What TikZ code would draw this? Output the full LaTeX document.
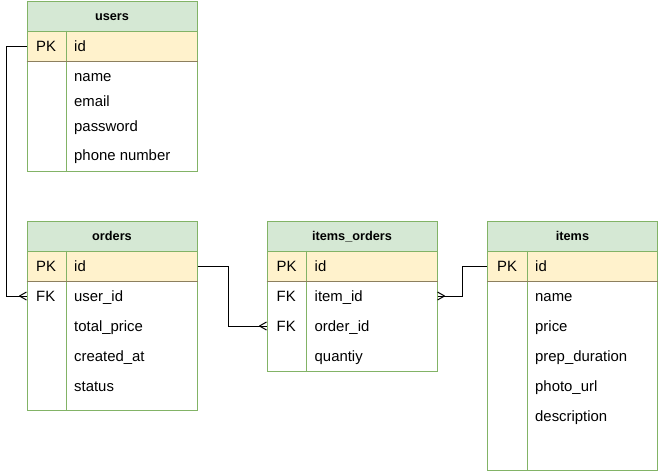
\documentclass[tikz,border=0pt]{standalone}
\usepackage{fontspec}
\setmainfont{Liberation Sans}
\usepackage{tikz}
\usetikzlibrary{arrows.meta}

\definecolor{headfill}{HTML}{D5E8D4}
\definecolor{keyfill}{HTML}{FFF2CC}
\definecolor{tblline}{HTML}{82B366}
\definecolor{keyedge}{HTML}{8C7F5E}

% crow's foot (many) end
\pgfdeclarearrow{
  name = crowfoot,
  parameters = {\the\pgfarrowlength,\the\pgfarrowwidth},
  setup code = {
    \pgfarrowssettipend{0pt}
    \pgfarrowssetlineend{0pt}
    \pgfarrowssetbackend{-\pgfarrowlength}
    \pgfarrowsupperhullpoint{0pt}{.5\pgfarrowwidth}
    \pgfarrowsupperhullpoint{-\pgfarrowlength}{0pt}
    \pgfarrowssavethe\pgfarrowlength
    \pgfarrowssavethe\pgfarrowwidth
  },
  drawing code = {
    \pgfsetroundjoin
    \pgfpathmoveto{\pgfpoint{0pt}{.5\pgfarrowwidth}}
    \pgfpathlineto{\pgfpoint{-\pgfarrowlength}{0pt}}
    \pgfpathlineto{\pgfpoint{0pt}{-.5\pgfarrowwidth}}
    \pgfusepathqstroke
  },
  defaults = {length = 7pt, width = 8pt}
}

\tikzset{
  tablebox/.style={rectangle, draw=tblline, line width=1pt, minimum width=170pt, inner sep=0pt},
  headrow/.style={tablebox, fill=headfill, minimum height=30pt,
    font=\bfseries\fontsize{12.7}{15}\selectfont, text height=9pt, text depth=1pt},
  keyrow/.style={tablebox, fill=keyfill, minimum height=30pt},
  bodybox/.style={tablebox, fill=white},
  field/.style={anchor=west, inner sep=0pt, font=\fontsize{14.9}{18}\selectfont,
    text height=13pt, text depth=3pt},
  divider/.style={draw=tblline, line width=1pt},
  keysep/.style={draw=keyedge, line width=1pt},
  relation/.style={draw=black, line width=1pt}
}

\begin{document}
\begin{tikzpicture}[x=1pt, y=-1pt]
    \useasboundingbox (0,0) rectangle (658,471);

    % users
    \node[bodybox, minimum height=110pt] (users-body) at (112,116) {};
    \node[keyrow] (users-pk) at (112,46) {};
    \node[headrow] (users-head) at (112,16) {users};
    \draw[divider] ([xshift=40pt]users-pk.north west) -- ([xshift=40pt]users-body.south west);
    \draw[keysep] (users-pk.south west) -- (users-pk.south east);
    \node[field] (users-pktag) at (36,46) {PK};
    \node[field] (users-id) at (74,46) {id};
    \node[field] (users-name) at (74,76) {name};
    \node[field] (users-email) at (74,101) {email};
    \node[field] (users-password) at (74,126) {password};
    \node[field] (users-phone) at (74,155) {phone number};

    % orders
    \node[bodybox, minimum height=129pt] (orders-body) at (112,345.5) {};
    \node[keyrow] (orders-pk) at (112,266) {};
    \node[headrow] (orders-head) at (112,236) {orders};
    \draw[divider] ([xshift=40pt]orders-pk.north west) -- ([xshift=40pt]orders-body.south west);
    \draw[keysep] (orders-pk.south west) -- (orders-pk.south east);
    \node[field] (orders-pktag) at (36,266) {PK};
    \node[field] (orders-id) at (74,266) {id};
    \node[field] (orders-fk) at (36,296) {FK};
    \node[field] (orders-userid) at (74,296) {user\_id};
    \node[field] (orders-total) at (74,326) {total\_price};
    \node[field] (orders-created) at (74,356) {created\_at};
    \node[field] (orders-status) at (74,386) {status};

    % items_orders
    \node[bodybox, minimum height=90pt] (io-body) at (352,326) {};
    \node[keyrow] (io-pk) at (352,266) {};
    \node[headrow] (io-head) at (352,236) {items\_orders};
    \draw[divider] ([xshift=40pt]io-pk.north west) -- ([xshift=40pt]io-body.south west);
    \draw[keysep] (io-pk.south west) -- (io-pk.south east);
    \node[field] (io-pktag) at (276.5,266) {PK};
    \node[field] (io-id) at (314.5,266) {id};
    \node[field] (io-fkitem) at (276.5,296) {FK};
    \node[field] (io-itemid) at (314.5,296) {item\_id};
    \node[field] (io-fkorder) at (276.5,326) {FK};
    \node[field] (io-orderid) at (314.5,326) {order\_id};
    \node[field] (io-qty) at (314.5,356) {quantiy};

    % items
    \node[bodybox, minimum height=189pt] (items-body) at (572.5,375.5) {};
    \node[keyrow] (items-pk) at (572.5,266) {};
    \node[headrow] (items-head) at (572.5,236) {items};
    \draw[divider] ([xshift=40pt]items-pk.north west) -- ([xshift=40pt]items-body.south west);
    \draw[keysep] (items-pk.south west) -- (items-pk.south east);
    \node[field] (items-pktag) at (497,266) {PK};
    \node[field] (items-id) at (535,266) {id};
    \node[field] (items-name) at (535,296) {name};
    \node[field] (items-price) at (535,326) {price};
    \node[field] (items-prep) at (535,356) {prep\_duration};
    \node[field] (items-photo) at (535,386) {photo\_url};
    \node[field] (items-desc) at (535,416) {description};

    % relations
    \draw[relation, -{crowfoot}] (users-pk.west) -- ++(-20,0) |- (orders-fk -| orders-body.west);
    \draw[relation, -{crowfoot}] (orders-pk.east) -- ++(31,0) |- (io-fkorder -| io-body.west);
    \draw[relation, {crowfoot}-] (io-fkitem -| io-body.east) -- ++(25,0) |- (items-pk.west);
\end{tikzpicture}
\end{document}
